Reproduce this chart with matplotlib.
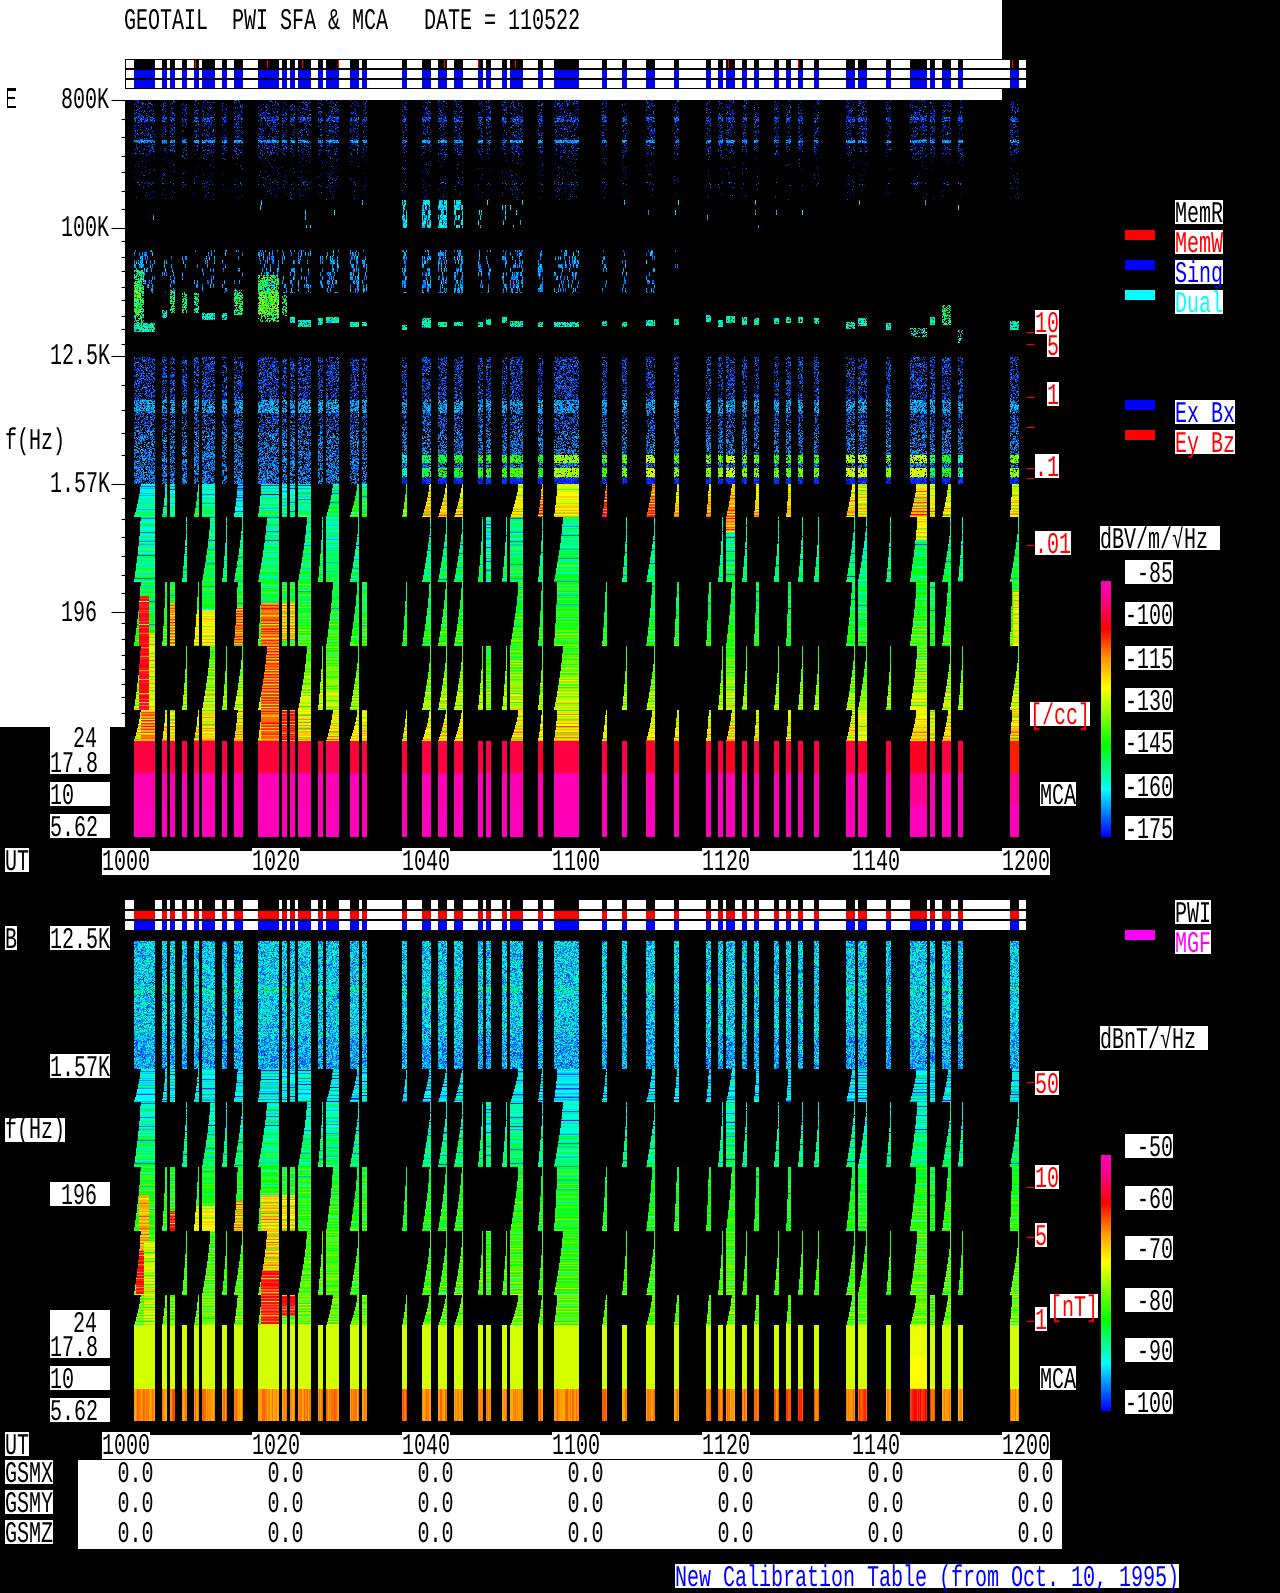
import numpy as np
import matplotlib
matplotlib.use("Agg")
import matplotlib.pyplot as plt
from matplotlib.colors import LinearSegmentedColormap
from matplotlib.patches import Rectangle
from matplotlib.patheffects import AbstractPathEffect
from matplotlib.transforms import Affine2D

# telemetry segments, minutes after 1000 UT
seg_start = [1.05, 4.81, 5.84, 7.47, 9.05, 10.14, 12.81, 14.38, 17.59, 20.81, 21.84, 22.93,
             25.59, 26.68, 29.84, 31.47, 36.81, 39.47, 41.59, 43.72, 46.93, 48.02, 50.14, 51.23,
             54.93, 57.05, 63.47, 66.14, 69.35, 73.05, 77.35, 78.93, 80.01, 82.14, 83.71, 86.38,
             88.01, 89.59, 91.71, 96.00, 97.59, 101.35, 104.50, 107.17, 108.80, 110.93, 117.84]
seg_end = [3.88, 5.46, 6.55, 8.13, 9.70, 11.88, 13.46, 15.58, 20.42, 21.46, 22.55, 24.67,
           26.25, 28.42, 31.09, 32.13, 37.46, 40.67, 42.79, 44.91, 47.58, 48.67, 50.79, 52.91,
           55.58, 60.42, 64.13, 66.79, 70.55, 73.76, 78.00, 79.58, 81.21, 82.79, 84.42, 87.09,
           88.67, 90.24, 92.42, 97.21, 98.79, 102.00, 106.79, 107.88, 110.00, 111.58, 119.09]
memw_ticks = [9.16, 18.74, 23.47, 28.21, 42.41, 46.98, 51.93, 80.28, 89.65, 118.16]

# where each low frequency sub band starts inside a segment (minutes, -1 = no data)
sweep_a = [.9, .45, 0, -1, .55, 0, -1, .5, .45, 0, 0, 0, -1, .9, 1.0, 0, .55, 1.0, 1.05, 1.05,
           -1, -1, -1, 1.1, .5, .45, .5, -1, .8, .4, .35, -1, .75, -1, .35, -1, .3, -1, -1, .8,
           0, -1, .9, 0, .8, -1, .3]
sweep_b = [.9, -1, -1, .6, -1, 1.1, .62, 1.15, 1.2, -1, -1, 1.2, .62, 0, 1.2, -1, -1, 1.18, 1.18,
           1.18, .62, 0, .62, 0, .62, 1.2, -1, .62, 1.18, -1, -1, .62, 0, .62, -1, .68, -1, .62,
           .7, 1.15, 1.15, .62, 1.0, -1, 1.2, .62, 1.2]

# E field, high frequency speckle
zone_c0 = [0, 17, 40, 55, 82, 257, 300, 313, 330, 350]
zone_c1 = [55, 22, 43, 100, 85, 300, 313, 330, 350, 384]
zone_den = [.2, .6, .85, .05, .15, .4, .7, .42, .48, .55]
zone_db = [-171, -169, -165, -172, -169, -169, -164, -168, -166, -166]
mid_den = [.015] * 16 + [.6, .7, .7, .5, .15, .1, .1, .1] + [.015] * 23
radio_den = [.22, .22, .18, .15, .12, .2, .15, .12, .25, .15, .25, .3, .15, .33, .38, .35, .45, .5, .45, .38,
             .28, .25, .3, .38, .28, .28, .15, .25, .25, .06] + [0] * 17
band_db = [None] * 16 + [-158, -150, -145, -145, -142, -142, -142, -140, -142, -132, -140, -135,
                         -128, -135, -135, -135, -128, -135, -135, -138, -138, -138, -138, -130,
                         -128, -135, -128, -150, -145, -155, -135]

# plasma line, channels from the top of the panel
plasma_top = [223, 210, 190, 193, 193, 213, 213, 190, 175, 195, 217, 220, 218, 217, 222, 222, 225,
              218, 222, 222, 222, 219, 217, 221, 222, 222, 221, 222, 220, 219, 215, 220, 216, 217,
              218, 218, 217, 217, 218, 222, 218, 223, 228, 217, 205, 230, 221]
plasma_bot = [232, 218, 213, 213, 213, 220, 220, 215, 222, 216, 223, 227, 225, 223, 227, 226, 230,
              228, 227, 226, 227, 225, 223, 227, 227, 227, 226, 227, 226, 225, 222, 227, 223, 225,
              225, 224, 223, 223, 224, 229, 226, 230, 237, 225, 225, 243, 230]
plasma_db = [-155, -155, -149, -151, -153, -155, -155, -149, -145, -149, -155, -155, -155, -155,
             -155, -155, -157, -155, -155, -155, -155, -155, -155, -155, -155, -155, -155, -155,
             -155, -155, -155, -155, -153, -155, -155, -155, -155, -155, -155, -155, -153, -157,
             -157, -155, -151, -159, -155]
plasma_den = [.9, .8, .62, .62, .6, .85, .85, .62, .55, .62] + [.9] * 32 + [.42, .9, .62, .33, .85]
blob_t0 = [1.1, 1.1, 17.7]
blob_t1 = [2.35, 2.0, 20.4]
blob_c0 = [170, 185, 192]
blob_c1 = [223, 215, 215]
blob_db = [-150, -138, -136]

# E field low frequency levels (dB), steps by channel
e_rows = [417, 432, 448, 464, 482, 496, 512, 528, 546, 560, 576, 592, 610, 625, 641]
e_prof = [-155, -155, -152, -150, -148, -148, -145, -142, -142, -138, -135, -131, -126, -122]
e_top_db = [-160, -158, -160, -160, -155, -158, -160, -165, -158, -160, -160, -158, -155, -155, -150,
            -152, -142, -125, -125, -128, -130, -130, -130, -128, -118, -128, -112, -125, -115, -125,
            -122, -125, -120, -125, -125, -125, -125, -130, -130, -125, -128, -130, -122, -128, -130,
            -130, -128]
e_gain = [0, 3, 2, 0, 3, 3, 0, 3, 2, 3, 3, 3, 3, 2, 0, 2, 0, 0, 2, 2, 2, -2, 2, 3, 0, 3, 0, 0,
          0, 0, 0, 0, 2, 0, 0, 0, 0, 0, 0, 0, -1, 0, 4, 0, 3, 0, 5]
e_patch_t0 = [1.70, 3.12, 2.00, 18.03, 20.81, 20.81, 5.84, 9.05, 14.40, 104.5, 80.0, 118.3, 97.59]
e_patch_t1 = [3.12, 3.88, 3.88, 20.42, 22.55, 22.55, 6.55, 11.90, 15.58, 106.8, 81.2, 119.1, 98.79]
e_patch_c0 = [496, 533, 610, 503, 503, 610, 503, 510, 507, 417, 417, 490, 610]
e_patch_c1 = [610, 610, 640, 640, 540, 640, 545, 545, 545, 440, 432, 546, 641]
e_patch_db = [-102, -125, -112, -110, -118, -105, -114, -122, -111, -122, -113, -124, -125]

# B field low frequency levels
b_rows = [128, 161, 193, 225, 240, 260, 289, 320, 353, 384]
b_prof = [-92, -90, -87, -84, -83, -82, -81, -80, -79]
b_gain = [1, 1, 1, 0, 1, 1, 0, 1, 1, 1, 1, 1, 1, 1, 0, 1, 0, 0, 0, 1, 1, 0, 1, 1, 0, 0, 0, 0,
          0, 0, 0, 0, 1, 0, 0, 0, 0, 0, 0, 0, 0, 0, 1, 0, 1, 0, 1]
b_patch_t0 = [1.7, 1.4, 2.4, 18.0, 18.0, 20.81, 20.81, 5.84, 14.4, 9.05]
b_patch_t1 = [3.1, 2.9, 3.88, 20.42, 20.42, 22.55, 22.55, 6.55, 15.58, 11.9]
b_patch_c0 = [254, 310, 300, 254, 330, 254, 345, 270, 260, 265]
b_patch_c1 = [310, 353, 384, 330, 384, 290, 375, 295, 295, 290]
b_patch_db = [-67, -60, -74, -69, -61, -70, -60, -61, -68, -71]

# MCA channels
e_mca_1 = [-97, -96, -97, -97, -97, -97, -97, -97, -98, -97, -97, -97, -97, -96, -98, -97, -98, -97,
           -97, -97, -97, -97, -97, -97, -99, -97, -97, -97, -99, -100, -97, -97, -100, -97, -97, -97,
           -98, -97, -97, -97, -99, -97, -100, -98, -97, -98, -104]
e_mca_2 = [-86] * 42 + [-91, -86, -86, -86, -90]
e_mca_3 = [-85] * 47
b_mca_1 = [-73] * 42 + [-72, -73, -73, -73, -73]
b_mca_2 = [-73] * 42 + [-71, -73, -73, -73, -73]
b_mca_3 = [-65, -65, -64, -65, -65, -65, -65, -65, -65, -65, -65, -65, -65, -65, -65, -64, -63, -65,
           -65, -65, -64, -65, -65, -65, -64, -65, -64, -65, -65, -65, -64, -64, -65, -64, -65, -64,
           -63, -62, -64, -65, -63, -66, -61, -63, -65, -66, -65]

# hand typed fine grain: the single speckle cells are not read one by one from the picture
grain_a = ["3807152946031872594601738250917364285",
           "9261740385216094738152640971583026497",
           "0578293164870352196084725319640857231",
           "6142908537416280935761402893175604982",
           "4895013762598143607249856130472968315",
           "2730651984306729184053627918035142760",
           "7519486203174965023816749250681397524",
           "1064273859620418756392018467293580146",
           "8352906147583201469785320914576082639",
           "5926318074129756830241695738412069357",
           "0483765291847630512976084153967241808"]
grain_b = ["52819073641528096437120",
           "07364918250736481925603",
           "91472605839154720386915",
           "36058192470269513840762",
           "68125937041872960531248",
           "24907365182047318695074",
           "75310846296513089472631",
           "19684250738296451703856",
           "43072981565708124369217"]
row_ripple = [-3, 2, -1, 4, 0, -5, 3, 1, -2, 5, -4, 0, 2, -3, 6, -1, -6, 3, 1, -2, 4, -4, 0, 5, -1, -3, 2, 4, -5, 1, 3]
row_ripple2 = [1, -2, 0, 3, -12, 2, 0, -3, 4, 1, -1, 9, -2, 0, 2, -4, 1, 3, -14, 0, 2, -1, 5]
ut_labels = ["1000", "1020", "1040", "1100", "1120", "1140", "1200"]
e_ticks = [-85, -100, -115, -130, -145, -160, -175]
b_ticks = [-50, -60, -70, -80, -90, -100]
e_major = [0, 128, 256, 384, 512]
e_minor = [19, 37, 56, 72, 91, 109, 141, 157, 171, 187, 200, 216, 229, 244, 285, 310, 333, 355, 398, 419,
           437, 456, 475, 493, 523, 539, 555, 569, 584, 597, 613]
e_right = [232, 244, 296.5, 327, 368, 378, 445]
b_right = [141, 246, 296, 379.5]

tex_a = np.array([[int(ch) for ch in row] for row in grain_a])
tex_b = np.array([[int(ch) for ch in row] for row in grain_b])
ripple = np.array(row_ripple, dtype=float)
ripple2 = np.array(row_ripple2, dtype=float)
cols_per_min = 7.5
n_cols = 900


def col_of(t):
    return int(round(t * cols_per_min))


def rip_at(c, shift):
    return ripple[(c + shift * 7) % len(ripple)] + ripple2[(c + shift * 3) % len(ripple2)]


def grain(c0, c1, k0, k1, shift=0, tall=1):
    rows = np.arange(c0, c1) // tall + shift * 5
    cols = np.arange(k0, k1) + shift * 3
    a = tex_a[np.ix_(rows % tex_a.shape[0], cols % tex_a.shape[1])]
    b = tex_b[np.ix_((rows + 4) % tex_b.shape[0], cols % tex_b.shape[1])]
    return (((a + b) % 10) * 10 + a) / 100.0


def speckle(grid, c0, c1, k0, k1, density, db, spread, shift, tall=1):
    g = grain(c0, c1, k0, k1, shift, tall)
    lev = grain(c0, c1, k0, k1, shift + 17)
    part = grid[c0:c1, k0:k1]
    part[g < density] = (db + (lev - .5) * spread)[g < density]


def low_blocks(grid, base, top_db, prof_rows, prof, gain, scale):
    # blocks take turns between the two sweep tables
    blocks = [(384, 417, sweep_a), (417, 482, sweep_b), (482, 546, sweep_a),
              (546, 610, sweep_b), (610, 641, sweep_a)]
    for i in range(len(seg_start)):
        k1 = col_of(seg_end[i])
        for c0, c1, sweep in blocks:
            if sweep[i] < 0:
                continue
            for c in range(c0, c1):
                frac = (c - c0) / (c1 - c0)
                k0 = col_of(seg_start[i] + sweep[i] * (1 - frac ** 1.4))
                if k0 >= k1:
                    k0 = k1 - 1
                rip = rip_at(c, i) * scale
                if c < 417 and top_db is not None:
                    lev = top_db[i] + (c - 384) * .3
                else:
                    step = np.searchsorted(prof_rows, c - base, side="right") - 1
                    step = min(max(step, 0), len(prof) - 1)
                    lev = prof[step] + gain[i]
                grid[c - base, k0:k1] = lev + rip


def apply_patches(grid, t0, t1, c0, c1, db, scale):
    for j in range(len(db)):
        k0, k1 = col_of(t0[j]), col_of(t1[j])
        for c in range(c0[j], c1[j]):
            row = grid[c, k0:k1]
            row[~np.isnan(row)] = db[j] + rip_at(c, j) * scale


def e_panel():
    grid = np.full((737, n_cols), np.nan)
    for i in range(len(seg_start)):
        k0, k1 = col_of(seg_start[i]), col_of(seg_end[i])
        for c0, c1, den, db in zip(zone_c0, zone_c1, zone_den, zone_db):
            d = den * (.45 if i > 27 and c0 == 55 else 1)
            speckle(grid, c0, c1, k0, k1, d, db, 9, i)
        speckle(grid, 100, 128, k0, k1, mid_den[i], -160, 16, i, tall=5)
        speckle(grid, 150, 193, k0, k1, radio_den[i], -165, 12, i, tall=4)
        speckle(grid, plasma_top[i], plasma_bot[i], k0, k1, plasma_den[i], plasma_db[i], 24, i)
        if band_db[i] is not None:
            speckle(grid, 355, 363, k0, k1, .85, band_db[i], 14, i)
            speckle(grid, 368, 377, k0, k1, .9, band_db[i] + 2, 14, i)
            speckle(grid, 378, 384, k0, k1, .9, -172, 5, i)
    for j in range(len(blob_db)):
        k0, k1 = col_of(blob_t0[j]), col_of(blob_t1[j])
        speckle(grid, blob_c0[j], blob_c1[j], k0, k1, .6, blob_db[j], 30, j)
    low_blocks(grid, 0, e_top_db, e_rows, e_prof, e_gain, 1.1)
    apply_patches(grid, e_patch_t0, e_patch_t1, e_patch_c0, e_patch_c1, e_patch_db, 1.0)
    for i in range(len(seg_start)):
        k0, k1 = col_of(seg_start[i]), col_of(seg_end[i])
        grid[641:673, k0:k1] = e_mca_1[i]
        grid[673:705, k0:k1] = e_mca_2[i]
        grid[705:737, k0:k1] = e_mca_3[i]
    return grid


def b_panel():
    grid = np.full((480, n_cols), np.nan)
    for i in range(len(seg_start)):
        k0, k1 = col_of(seg_start[i]), col_of(seg_end[i])
        speckle(grid, 0, 128, k0, k1, 1.1, -92, 14, i)
        speckle(grid, 46, 52, k0, k1, .35, -85, 6, i)
        speckle(grid, 96, 128, k0, k1, .5, -95, 9, i)
    low_blocks(grid, 256, None, b_rows, b_prof, b_gain, .6)
    apply_patches(grid, b_patch_t0, b_patch_t1, b_patch_c0, b_patch_c1, b_patch_db, .6)
    for i in range(len(seg_start)):
        k0, k1 = col_of(seg_start[i]), col_of(seg_end[i])
        grid[384:416, k0:k1] = b_mca_1[i]
        grid[416:448, k0:k1] = b_mca_2[i]
        grid[448:480, k0:k1] = b_mca_3[i] + (grain(448, 480, k0, k1, i)[0] - .5) * 4
    return grid


class Tall(AbstractPathEffect):
    # the original lettering is a tall narrow terminal font
    def draw_path(self, renderer, gc, tpath, affine, rgbFace=None):
        renderer.draw_path(gc, tpath, Affine2D().scale(1, 1.5) + affine, rgbFace)


W, H = 1280, 1593
fig = plt.figure(figsize=(W / 100, H / 100), dpi=100, facecolor="black")
page = fig.add_axes([0, 0, 1, 1], zorder=0)
page.set_xlim(0, W)
page.set_ylim(H, 0)
page.axis("off")


def px_axes(x0, y0, x1, y1, zorder=2):
    ax = fig.add_axes([x0 / W, 1 - y1 / H, (x1 - x0) / W, (y1 - y0) / H], zorder=zorder)
    ax.patch.set_alpha(0)
    for s in ax.spines.values():
        s.set_visible(False)
    ax.set_xticks([])
    ax.set_yticks([])
    return ax


def box(x0, y0, x1, y1, color="white"):
    page.add_patch(Rectangle((x0, y0), x1 - x0, y1 - y0, fc=color, ec="none"))


def label(x, y, s, color="black"):
    page.text(x, y, s, color=color, fontsize=14.4, family=["Liberation Mono", "DejaVu Sans Mono"],
              ha="left", va="baseline", path_effects=[Tall()])


cmap = LinearSegmentedColormap.from_list("pwi", [(0, "#0000ff"), (.185, "#00ffff"), (.354, "#00ff00"),
                                                 (.58, "#ffff00"), (.70, "#ff9000"), (.81, "#ff0000"),
                                                 (.93, "#ff0090"), (1, "#ff00b8")])
cmap.set_bad("black")

# white page areas
box(0, 0, 1002, 100)
box(0, 100, 125, 727)
label(124, 29, "GEOTAIL  PWI SFA & MCA   DATE = 110522")

# spectrograms
ax_e = px_axes(126, 100, 1026, 837)
ax_e.imshow(e_panel(), cmap=cmap, vmin=-175, vmax=-85, extent=(0, 120, 737, 0), aspect="auto", interpolation="nearest")
ax_e.set_yticks(e_major)
ax_e.set_yticks(e_minor, minor=True)
ax_e.set_yticklabels([])
ax_e.tick_params(which="major", axis="y", length=10.8, width=.8, color="black")
ax_e.tick_params(which="minor", axis="y", length=3.6, width=.8, color="black")
ax_er = ax_e.twinx()
ax_er.set_ylim(737, 0)
ax_er.set_yticks(e_right)
ax_er.set_yticklabels([])
ax_er.tick_params(axis="y", length=5.8, width=.8, color="red")
for s in ax_er.spines.values():
    s.set_visible(False)

ax_b = px_axes(126, 941, 1026, 1421)
ax_b.imshow(b_panel(), cmap=cmap, vmin=-100, vmax=-50, extent=(0, 120, 480, 0), aspect="auto", interpolation="nearest")
ax_br = ax_b.twinx()
ax_br.set_ylim(480, 0)
ax_br.set_yticks(b_right)
ax_br.set_yticklabels([])
ax_br.set_xticks([])
ax_br.tick_params(axis="y", length=5.8, width=.8, color="red")
for s in ax_br.spines.values():
    s.set_visible(False)

# status bars
spans = [(a, b - a) for a, b in zip(seg_start, seg_end)]
bar_e = px_axes(125, 59, 1026, 89, zorder=3)
bar_e.patch.set_alpha(1)
bar_e.patch.set_facecolor("white")
bar_e.set_xlim(-.133, 120)
bar_e.set_ylim(3, 0)
bar_e.broken_barh(spans, (0, 1), facecolors="black")
bar_e.broken_barh(spans, (1, 2), facecolors="#0000ff")
bar_e.vlines(memw_ticks, 0, 1, color="red", lw=.9)
bar_b = px_axes(125, 900, 1026, 930, zorder=3)
bar_b.patch.set_alpha(1)
bar_b.patch.set_facecolor("white")
bar_b.set_xlim(-.133, 120)
bar_b.set_ylim(3, 0)
bar_b.broken_barh(spans, (0, 1), facecolors="black")
bar_b.broken_barh(spans, (1, 1), facecolors="#ff0000")
bar_b.broken_barh(spans, (2, 1), facecolors="#0000ff")
for bar, rows in ((bar_e, [0, 1, 2, 3]), (bar_b, [1, 2])):
    bar.hlines(rows, -.133, 120, color="black", lw=1.4)
bar_e.vlines([-.133], 0, 3, color="black", lw=1.4)

# colour bars
cb_e = px_axes(1101, 581, 1111, 837)
cb_e.imshow(np.linspace(-85, -175, 256)[:, None], cmap=cmap, vmin=-175, vmax=-85, aspect="auto")
cb_b = px_axes(1101, 1155, 1111, 1411)
cb_b.imshow(np.linspace(-50, -100, 256)[:, None], cmap=cmap, vmin=-100, vmax=-50, aspect="auto")
for tick, yc in zip(e_ticks, [572, 614, 658, 700, 742, 786, 828]):
    box(1125, yc - 12, 1173, yc + 12)
    s = str(tick)
    label(1173 - 12 * len(s), yc + 10, s)
for tick, yc in zip(b_ticks, [1146, 1198, 1248, 1300, 1350, 1402]):
    box(1125, yc - 12, 1173, yc + 12)
    s = str(tick)
    label(1173 - 12 * len(s), yc + 10, s)

# axis texts, E panel
label(5, 108, "E")
label(61, 108, "800K")
label(61, 236, "100K")
label(50, 364, "12.5K")
label(50, 492, "1.57K")
label(61, 621, "196")
label(5, 449, "f(Hz)")
box(50, 727, 110, 774)
label(73, 747, "24")
label(50, 772, "17.8")
box(50, 782, 110, 806)
label(50, 804, "10")
box(50, 814, 110, 838)
label(50, 836, "5.62")
box(5, 848, 29, 872)
label(5, 870, "UT")
box(102, 851, 1050, 875)
box(5, 1432, 29, 1456)
label(5, 1454, "UT")
box(102, 1435, 1050, 1459)
for i, s in enumerate(ut_labels):
    box(102 + 150 * i, 848, 150 + 150 * i, 851)
    label(102 + 150 * i, 870, s)
    box(102 + 150 * i, 1432, 150 + 150 * i, 1435)
    label(102 + 150 * i, 1454, s)

for x0, x1, y0, s in [(1035, 1059, 310, "10"), (1047, 1059, 333, "5"), (1047, 1059, 382, "1"),
                      (1035, 1059, 454, ".1"), (1035, 1071, 531, ".01"), (1030, 1090, 702, "[/cc]"),
                      (1035, 1059, 1071, "50"), (1035, 1059, 1165, "10"), (1035, 1047, 1223, "5"),
                      (1035, 1047, 1307, "1"), (1050, 1098, 1294, "[nT]")]:
    box(x0, y0, x1, y0 + 24)
    label(x0, y0 + 22, s, "red")
box(1040, 782, 1076, 806)
label(1040, 804, "MCA")
box(1040, 1366, 1076, 1390)
label(1040, 1388, "MCA")

# legends
for y, s, col, key in [(200, "MemR", "black", None), (230, "MemW", "red", "#ff0000"), (260, "Sing", "#0000ff", "#0000ff"),
                       (290, "Dual", "#00ffff", "#00ffff")]:
    box(1175, y, 1223, y + 24)
    label(1175, y + 22, s, col)
    if key:
        box(1125, y, 1155, y + 10, key)
for y, s, col in [(400, "Ex Bx", "#0000ff"), (430, "Ey Bz", "#ff0000")]:
    box(1175, y, 1235, y + 24)
    label(1175, y + 22, s, col)
    box(1125, y, 1155, y + 10, col)
box(1175, 900, 1211, 924)
label(1175, 922, "PWI")
box(1175, 930, 1211, 954)
label(1175, 952, "MGF", "#ff00ff")
box(1125, 930, 1155, 940, "#ff00ff")
box(1100, 526, 1220, 550)
label(1100, 548, "dBV/m/√Hz")
box(1100, 1026, 1208, 1050)
label(1100, 1048, "dBnT/√Hz")

# B panel texts
box(5, 926, 17, 950)
label(5, 948, "B")
for y, x, s in [(926, 50, "12.5K"), (1054, 50, "1.57K"), (1182, 61, "196"), (1366, 50, "10"), (1398, 50, "5.62")]:
    box(50, y, 110, y + 24)
    label(x, y + 22, s)
box(5, 1118, 65, 1142)
label(5, 1138, "f(Hz)")
box(50, 1310, 110, 1358)
label(73, 1332, "24")
label(50, 1356, "17.8")

# position table (all zero on this date)
box(78, 1460, 1062, 1549)
for y, s in [(1460, "GSMX"), (1490, "GSMY"), (1520, "GSMZ")]:
    box(5, y, 53, y + 24)
    label(5, y + 22, s)
    for i in range(7):
        label(117.5 + 150 * i, y + 22, "0.0")

box(675, 1564, 1179, 1588)
label(675, 1586, "New Calibration Table (from Oct. 10, 1995)", "#0000ff")

fig.savefig("out.png", dpi=100, facecolor="black")
